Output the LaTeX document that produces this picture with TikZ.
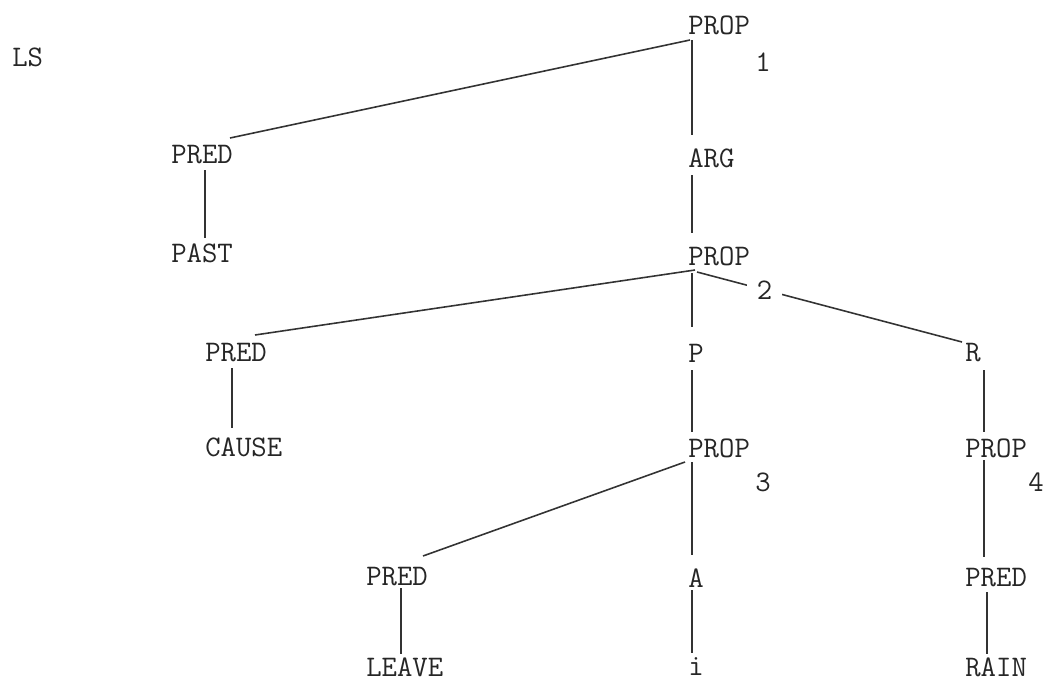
\documentclass[tikz,border=0pt]{standalone}
\usepackage{fontspec}
\usetikzlibrary{calc}

\begin{document}
\begin{tikzpicture}[
  x=0.02cm, y=-0.02cm,
  lab/.style={anchor=west, inner sep=0pt, text=black!85,
              font=\ttfamily\fontsize{17}{20}\selectfont},
  num/.style={inner sep=0pt, text=black!85,
              font=\ttfamily\fontsize{17}{20}\selectfont},
  tie/.style={draw=black!80, line width=0.9pt},
]
  \useasboundingbox (0,0) rectangle (1046,683);

  % Level labels
  \node[lab] (ls) at (12,57) {LS};

  % Top proposition
  \node[lab] (prop1) at (688,25) {PROP};
  \node[num] (n1) at (763,62) {1};
  \node[lab] (predA) at (171,155) {PRED};
  \node[lab] (past) at (171,253) {PAST};
  \node[lab] (arg) at (688,158) {ARG};

  % Second proposition
  \node[lab] (prop2) at (688,256) {PROP};
  \node[lab] (predB) at (205,353) {PRED};
  \node[lab] (cause) at (205,447) {CAUSE};
  \node[lab] (p) at (688,353) {P};
  \node[lab] (r) at (965,353) {R};

  % Third and fourth propositions
  \node[lab] (prop3) at (688,448) {PROP};
  \node[num] (n3) at (763,482) {3};
  \node[lab] (prop4) at (965,448) {PROP};
  \node[num] (n4) at (1036,482) {4};
  \node[lab] (predC) at (366,577) {PRED};
  \node[lab] (leave) at (366,667) {LEAVE};
  \node[lab] (a) at (688,578) {A};
  \node[lab] (i) at (688,667) {i};
  \node[lab] (predD) at (965,578) {PRED};
  \node[lab] (rain) at (965,667) {RAIN};

  % Branches of PROP 1
  \draw[tie] ($(prop1.west)+(2,15)$) -- ($(predA.west)+(59,-17)$);
  \draw[tie] ($(prop1.west)+(4,15)$) -- ($(arg.west)+(4,-23)$);
  \draw[tie] ($(predA.west)+(34,15)$) -- ($(past.west)+(34,-15)$);
  \draw[tie] ($(arg.west)+(4,17)$) -- ($(prop2.west)+(4,-23)$);

  % Branches of PROP 2 (label 2 sits on the right branch)
  \draw[tie] ($(prop2.west)+(7,14)$) -- ($(predB.west)+(50,-18)$);
  \draw[tie] ($(prop2.west)+(4,17)$) -- ($(p.west)+(4,-26)$);
  \draw[tie] ($(prop2.west)+(9,16)$) -- ($(r.west)+(-3,-11)$)
        node[num, pos=0.255, fill=white, inner xsep=0.2cm, inner ysep=2pt] (n2) {2};
  \draw[tie] ($(predB.west)+(27,15)$) -- ($(cause.west)+(27,-19)$);
  \draw[tie] ($(p.west)+(4,17)$) -- ($(prop3.west)+(4,-16)$);
  \draw[tie] ($(r.west)+(19,17)$) -- ($(prop4.west)+(19,-16)$);

  % Branches of PROP 3 and PROP 4
  \draw[tie] ($(prop3.west)+(-3,14)$) -- ($(predC.west)+(57,-21)$);
  \draw[tie] ($(prop3.west)+(4,14)$) -- ($(a.west)+(4,-23)$);
  \draw[tie] ($(prop4.west)+(19,12)$) -- ($(predD.west)+(19,-21)$);
  \draw[tie] ($(predC.west)+(35,11)$) -- ($(leave.west)+(35,-13)$);
  \draw[tie] ($(a.west)+(4,12)$) -- ($(i.west)+(4,-14)$);
  \draw[tie] ($(predD.west)+(22,14)$) -- ($(rain.west)+(22,-13)$);

\end{tikzpicture}
\end{document}
